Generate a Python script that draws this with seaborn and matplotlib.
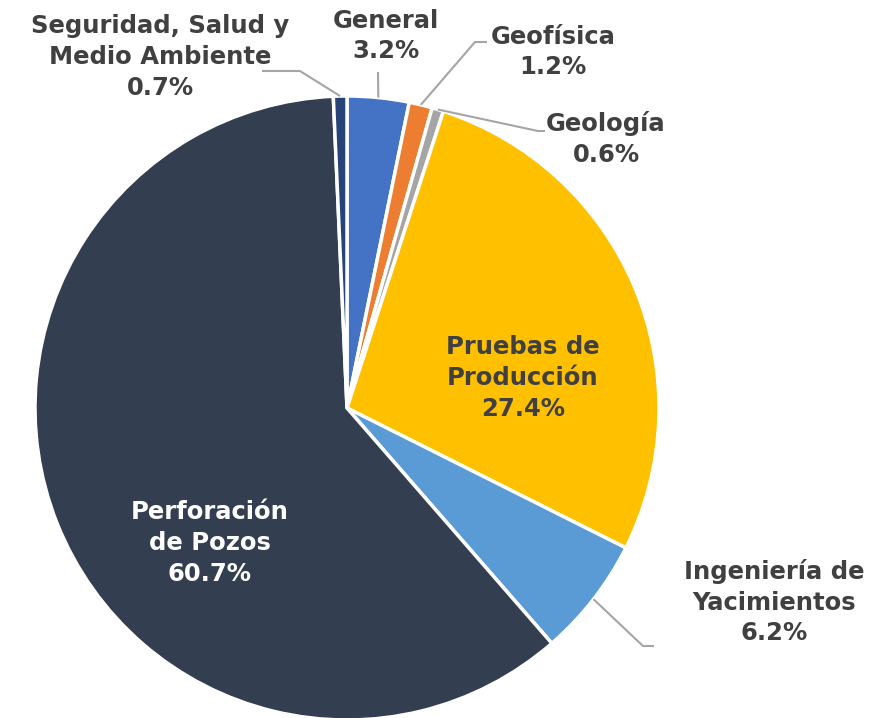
import matplotlib.pyplot as plt
import numpy as np
import seaborn as sns

sns.set_theme(style='white')
plt.rcParams['font.family'] = ['DejaVu Sans']

categories = ['General', 'Geofísica', 'Geología', 'Pruebas de\nProducción',
              'Ingeniería de\nYacimientos', 'Perforación\nde Pozos',
              'Seguridad, Salud y\nMedio Ambiente']
values = [3.2, 1.2, 0.6, 27.4, 6.2, 60.7, 0.7]
colors = sns.color_palette(['#4472C4', '#ED7D31', '#A5A5A5', '#FFC000',
                            '#5B9BD5', '#333F50', '#264478'])

W, H = 887, 718
fig = plt.figure(figsize=(W / 100, H / 100), dpi=100)
ax = fig.add_axes([0, 0, 1, 1])

cx, cy, r = 347, H - 408, 312
wedges, _ = ax.pie(values, colors=colors, startangle=90, counterclock=False,
                   center=(cx, cy), radius=r, frame=True,
                   wedgeprops=dict(edgecolor='white', linewidth=2.5))
ax.set_xlim(0, W)
ax.set_ylim(0, H)
ax.axis('off')

txt = '#404040'
fs = 17.5


def label(i, x, y, color=txt):
    ax.text(x, H - y, f'{categories[i]}\n{values[i]:.1f}%', ha='center',
            va='center', fontsize=fs, fontweight='bold', color=color,
            linespacing=1.36)


def leader(i, pts):
    w = wedges[i]
    ang = np.deg2rad((w.theta1 + w.theta2) / 2)
    xs = [cx + r * np.cos(ang)] + [p[0] for p in pts]
    ys = [cy + r * np.sin(ang)] + [H - p[1] for p in pts]
    ax.plot(xs, ys, color='#A5A5A5', lw=1.5, solid_capstyle='butt')


# outside labels (pixel positions)
label(0, 386, 36)
label(1, 553, 52)
label(2, 606, 139)
label(4, 774, 602)
label(6, 160, 57)
# inside labels
label(3, 523, 378)
label(5, 210, 543, color='white')

leader(0, [(378, 72)])
leader(1, [(475, 42), (487, 42)])
leader(2, [(538, 131), (545, 131)])
leader(4, [(643, 646), (654, 646)])
leader(6, [(300, 71), (262, 71)])

fig.savefig('out.png', dpi=100)
